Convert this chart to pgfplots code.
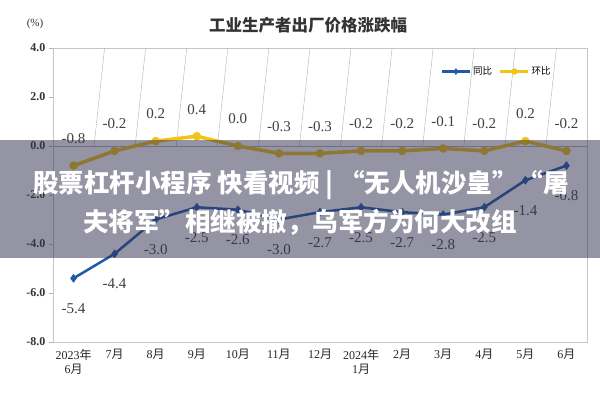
\documentclass[border=0pt]{standalone}
\usepackage{pgfplots}
\pgfplotsset{compat=1.18}
\usepackage{fontspec}
\setmainfont{Liberation Serif}
\newfontfamily\cjk{Noto Sans CJK SC}
\newcommand\nian{{\cjk 年}}
\newcommand\yue{{\cjk 月}}
\definecolor{tb}{RGB}{31,90,170}
\definecolor{hb}{RGB}{242,196,20}
\begin{document}
\begin{tikzpicture}
\path[use as bounding box] (0,0) rectangle (600pt,400pt);
\begin{axis}[
  at={(53pt,58pt)}, anchor=south west, scale only axis,
  width=534pt, height=294pt,
  xmin=-0.5, xmax=12.5, ymin=-8, ymax=4,
  xtick={0,...,12},
  xticklabels={{2023\nian\\6\yue},7\yue,8\yue,9\yue,10\yue,11\yue,12\yue,{2024\nian\\1\yue},2\yue,3\yue,4\yue,5\yue,6\yue},
  x tick label style={align=center, font=\fontsize{12}{14}\selectfont, text=black!85},
  ytick={-8,-6,...,4},
  y tick label style={font=\bfseries\fontsize{12}{14}\selectfont, text=black!80,
    /pgf/number format/fixed, /pgf/number format/fixed zerofill, /pgf/number format/precision=1},
  /pgf/number format/assume math mode=true,
  axis line style={draw=gray!45},
  xtick style={draw=none},
  ytick style={draw=gray!60},
  ytick pos=left,
  tick align=outside, major tick length=4pt,
  legend style={at={(rel axis cs:0.72,0.92)}, anchor=west, draw=none, fill=none,
    legend columns=2, font=\cjk\fontsize{9.5}{10}\selectfont,
    /tikz/every even column/.append style={column sep=5pt}},
  legend image code/.code={\draw[line width=2.5pt, mark size=3pt, mark repeat=2, mark phase=2] plot coordinates {(0pt,0pt)(14pt,0pt)(28pt,0pt)};},
]
\draw[gray!60] (axis cs:-0.5,0) -- (axis cs:12.5,0);
\pgfplotsinvokeforeach{0.5,1.5,...,11.5}{\draw[gray!60] (axis cs:#1,0) -- ++(0,-4pt);}
\addplot[tb, line width=2.5pt, line join=round, mark=diamond*, mark size=4pt,
  mark options={fill=tb, line width=0.5pt},
  nodes near coords,
  every node near coord/.append style={anchor=center, yshift=-30pt, text=black!75,
    font=\fontsize{15}{16}\selectfont,
    /pgf/number format/fixed, /pgf/number format/fixed zerofill, /pgf/number format/precision=1}]
  coordinates {(0,-5.4)(1,-4.4)(2,-3.0)(3,-2.5)(4,-2.6)(5,-3.0)(6,-2.7)(7,-2.5)(8,-2.7)(9,-2.8)(10,-2.5)(11,-1.4)(12,-0.8)};
\addlegendentry{同比}
\addplot[hb, line width=3.5pt, line join=round, mark=*, mark size=4pt,
  mark options={fill=hb, line width=0.5pt},
  nodes near coords,
  every node near coord/.append style={anchor=center, yshift=27pt, text=black!75,
    font=\fontsize{15}{16}\selectfont,
    /pgf/number format/fixed, /pgf/number format/fixed zerofill, /pgf/number format/precision=1}]
  coordinates {(0,-0.8)(1,-0.2)(2,0.2)(3,0.4)(4,0.0)(5,-0.3)(6,-0.3)(7,-0.2)(8,-0.2)(9,-0.1)(10,-0.2)(11,0.2)(12,-0.2)};
\addlegendentry{环比}
\end{axis}
\node[font=\cjk\bfseries\fontsize{16.5}{18}\selectfont, text=black!80] at (308pt,375pt) {工业生产者出厂价格涨跌幅};
\node[font=\fontsize{11}{12}\selectfont, text=black!80] at (35pt,376pt) {(\%)};
\fill[fill={rgb,255:red,50;green,50;blue,80}, fill opacity=0.52] (0pt,142pt) rectangle (600pt,260pt);
\node[text=white, font=\cjk\bfseries\fontsize{25.5}{27}\selectfont] at (301pt,215pt) {股票杠杆小程序 快看视频 | “无人机沙皇”“屠};
\node[text=white, font=\cjk\bfseries\fontsize{25.5}{27}\selectfont] at (300pt,178pt) {夫将军”相继被撤，乌军方为何大改组};
\end{tikzpicture}
\end{document}
